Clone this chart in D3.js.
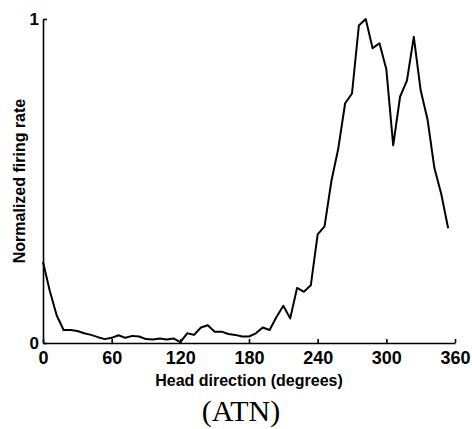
<!DOCTYPE html>
<html>
<head>
<meta charset="utf-8">
<script src="https://cdn.jsdelivr.net/npm/d3@7"></script>
<style>
  body { margin: 0; background: #fff; }
  svg { display: block; }
  .eje path, .eje line { stroke: #000; stroke-width: 1.6; }
</style>
</head>
<body>
<div class="chart-container"></div>
<script>
const width = 472;
const height = 429;
const margin = { top: 19, right: 17, bottom: 86, left: 43 };

// head direction bins (degrees)
const angulos = [0, 6, 12, 18, 24, 30, 36, 42, 48, 54,
                 60, 66, 72, 78, 84, 90, 96, 102, 108, 114,
                 120, 126, 132, 138, 144, 150, 156, 162, 168, 174,
                 180, 186, 192, 198, 204, 210, 216, 222, 228, 234,
                 240, 246, 252, 258, 264, 270, 276, 282, 288, 294,
                 300, 306, 312, 318, 324, 330, 336, 342, 348, 354];

// normalized firing rate per bin
const tasas = [0.25, 0.16, 0.085, 0.04, 0.04, 0.037, 0.03, 0.025, 0.018, 0.012,
               0.016, 0.024, 0.016, 0.022, 0.02, 0.012, 0.011, 0.014, 0.011, 0.014,
               0.003, 0.03, 0.025, 0.048, 0.055, 0.035, 0.035, 0.028, 0.025, 0.02,
               0.02, 0.03, 0.048, 0.04, 0.08, 0.115, 0.076, 0.17, 0.158, 0.178,
               0.335, 0.36, 0.5, 0.6, 0.74, 0.77, 0.98, 1.0, 0.91, 0.925,
               0.845, 0.61, 0.76, 0.81, 0.945, 0.78, 0.69, 0.54, 0.46, 0.354];

const ticksX = [0, 60, 120, 180, 240, 300, 360];
const ticksY = [0, 1];

const datos = angulos.map((a, i) => ({ angulo: a, tasa: tasas[i] }));

const fuente = "Liberation Sans, Arial, Helvetica, sans-serif";

const svg = d3.select(".chart-container")
              .append("svg")
              .attr("width", width)
              .attr("height", height);

const escalaX = d3.scaleLinear()
                  .domain([0, 360])
                  .range([margin.left, width - margin.right]);

const escalaY = d3.scaleLinear()
                  .domain([0, 1])
                  .range([height - margin.bottom, margin.top]);

const ejeX = d3.axisBottom(escalaX)
               .tickValues(ticksX)
               .tickFormat(d3.format("d"))
               .tickSize(-4)
               .tickSizeOuter(0)
               .tickPadding(8);

const ejeY = d3.axisLeft(escalaY)
               .tickValues(ticksY)
               .tickFormat(d3.format("d"))
               .tickSize(-4)
               .tickSizeOuter(0)
               .tickPadding(4);

const contenedorEjeX = svg.append("g")
   .attr("class", "eje")
   .attr("transform", `translate(0, ${height - margin.bottom})`)
   .call(ejeX);

contenedorEjeX.selectAll("text")
   .style("font-family", fuente)
   .style("font-weight", "bold")
   .style("font-size", "18px")
   .attr("fill", "#000");

const contenedorEjeY = svg.append("g")
   .attr("class", "eje")
   .attr("transform", `translate(${margin.left}, 0)`)
   .call(ejeY);

contenedorEjeY.selectAll("text")
   .style("font-family", fuente)
   .style("font-weight", "bold")
   .style("font-size", "17px")
   .attr("fill", "#000");

const linea = d3.line()
                .x((d) => escalaX(d.angulo))
                .y((d) => escalaY(d.tasa));

svg.append("path")
   .datum(datos)
   .attr("d", linea)
   .attr("fill", "none")
   .attr("stroke", "#000")
   .attr("stroke-width", 2)
   .attr("stroke-linejoin", "round");

// axis titles
svg.append("text")
   .attr("x", 249)
   .attr("y", 386)
   .attr("text-anchor", "middle")
   .style("font-family", fuente)
   .style("font-weight", "bold")
   .style("font-size", "16px")
   .text("Head direction (degrees)");

svg.append("text")
   .attr("transform", "translate(25, 181) rotate(-90)")
   .attr("text-anchor", "middle")
   .style("font-family", fuente)
   .style("font-weight", "bold")
   .style("font-size", "16px")
   .text("Normalized firing rate");

svg.append("text")
   .attr("x", 241)
   .attr("y", 421)
   .attr("text-anchor", "middle")
   .style("font-family", "Liberation Serif, Times New Roman, serif")
   .style("font-size", "30px")
   .text("(ATN)");
</script>
</body>
</html>
